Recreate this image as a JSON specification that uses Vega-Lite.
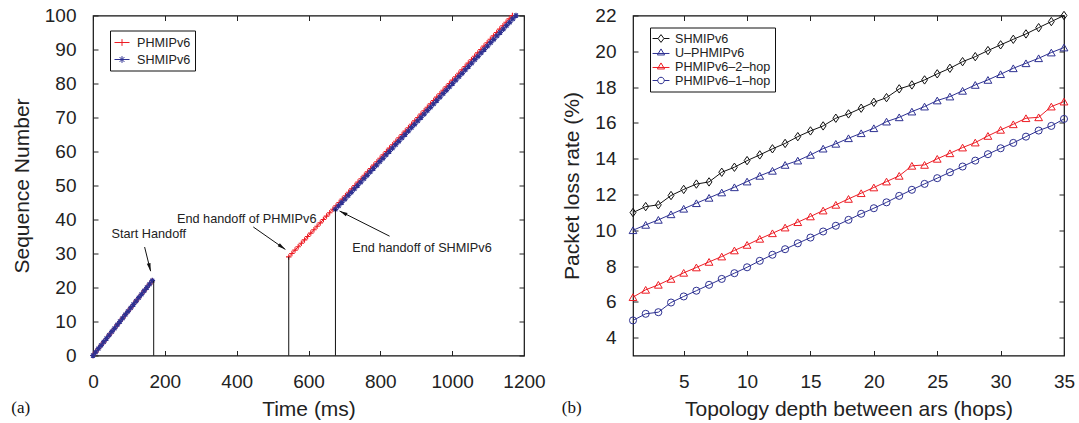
{
  "$schema": "https://vega.github.io/schema/vega-lite/v6.json",
  "background": "white",
  "padding": {"left": 10, "top": 5.5, "right": 5, "bottom": 0},
  "bounds": "flush",
  "spacing": 109,
  "resolve": {"scale": {"color": "independent", "shape": "independent"}, "legend": {"color": "independent", "shape": "independent"}},
  "config": {
    "view": {"stroke": "#111", "strokeWidth": 1.2},
    "font": "Liberation Sans",
    "axis": {"domain": false, "grid": false, "ticks": true, "tickSize": -5, "tickColor": "#222", "tickWidth": 1, "labelFont": "Liberation Sans", "labelFontSize": 19, "labelColor": "#222", "labelPadding": 22, "labelFlush": false, "titleFont": "Liberation Sans", "titleFontSize": 21, "titleFontWeight": "normal", "titleColor": "#222"},
    "axisX": {"titlePadding": 7},
    "axisY": {"titlePadding": 12}
  },
  "datasets": {
    "seq": [
      {"series":"PHMIPv6","seg":1,"t":0,"q":0},{"series":"PHMIPv6","seg":1,"t":7.5,"q":1},{"series":"PHMIPv6","seg":1,"t":15,"q":2},{"series":"PHMIPv6","seg":1,"t":22.5,"q":3},{"series":"PHMIPv6","seg":1,"t":30,"q":4},{"series":"PHMIPv6","seg":1,"t":37.5,"q":5},{"series":"PHMIPv6","seg":1,"t":45,"q":6},{"series":"PHMIPv6","seg":1,"t":52.5,"q":7},{"series":"PHMIPv6","seg":1,"t":60,"q":8},{"series":"PHMIPv6","seg":1,"t":67.5,"q":9},{"series":"PHMIPv6","seg":1,"t":75,"q":10},{"series":"PHMIPv6","seg":1,"t":82.5,"q":11},{"series":"PHMIPv6","seg":1,"t":90,"q":12},{"series":"PHMIPv6","seg":1,"t":97.5,"q":13},{"series":"PHMIPv6","seg":1,"t":105,"q":14},{"series":"PHMIPv6","seg":1,"t":112.5,"q":15},{"series":"PHMIPv6","seg":1,"t":120,"q":16},{"series":"PHMIPv6","seg":1,"t":127.5,"q":17},{"series":"PHMIPv6","seg":1,"t":135,"q":18},{"series":"PHMIPv6","seg":1,"t":142.5,"q":19},{"series":"PHMIPv6","seg":1,"t":150,"q":20},{"series":"PHMIPv6","seg":1,"t":157.5,"q":21},{"series":"PHMIPv6","seg":1,"t":165,"q":22},
      {"series":"PHMIPv6","seg":2,"t":545.0,"q":29},{"series":"PHMIPv6","seg":2,"t":553.8,"q":30},{"series":"PHMIPv6","seg":2,"t":562.5,"q":31},{"series":"PHMIPv6","seg":2,"t":571.3,"q":32},{"series":"PHMIPv6","seg":2,"t":580.1,"q":33},{"series":"PHMIPv6","seg":2,"t":588.9,"q":34},{"series":"PHMIPv6","seg":2,"t":597.6,"q":35},{"series":"PHMIPv6","seg":2,"t":606.4,"q":36},{"series":"PHMIPv6","seg":2,"t":615.2,"q":37},{"series":"PHMIPv6","seg":2,"t":623.9,"q":38},{"series":"PHMIPv6","seg":2,"t":632.7,"q":39},{"series":"PHMIPv6","seg":2,"t":641.5,"q":40},{"series":"PHMIPv6","seg":2,"t":650.2,"q":41},{"series":"PHMIPv6","seg":2,"t":659.0,"q":42},{"series":"PHMIPv6","seg":2,"t":667.8,"q":43},{"series":"PHMIPv6","seg":2,"t":676.6,"q":44},{"series":"PHMIPv6","seg":2,"t":685.3,"q":45},{"series":"PHMIPv6","seg":2,"t":694.1,"q":46},{"series":"PHMIPv6","seg":2,"t":702.9,"q":47},{"series":"PHMIPv6","seg":2,"t":711.6,"q":48},{"series":"PHMIPv6","seg":2,"t":720.4,"q":49},{"series":"PHMIPv6","seg":2,"t":729.2,"q":50},{"series":"PHMIPv6","seg":2,"t":737.9,"q":51},{"series":"PHMIPv6","seg":2,"t":746.7,"q":52},{"series":"PHMIPv6","seg":2,"t":755.5,"q":53},{"series":"PHMIPv6","seg":2,"t":764.3,"q":54},{"series":"PHMIPv6","seg":2,"t":773.0,"q":55},{"series":"PHMIPv6","seg":2,"t":781.8,"q":56},{"series":"PHMIPv6","seg":2,"t":790.6,"q":57},{"series":"PHMIPv6","seg":2,"t":799.3,"q":58},{"series":"PHMIPv6","seg":2,"t":808.1,"q":59},{"series":"PHMIPv6","seg":2,"t":816.9,"q":60},{"series":"PHMIPv6","seg":2,"t":825.6,"q":61},{"series":"PHMIPv6","seg":2,"t":834.4,"q":62},{"series":"PHMIPv6","seg":2,"t":843.2,"q":63},{"series":"PHMIPv6","seg":2,"t":852.0,"q":64},{"series":"PHMIPv6","seg":2,"t":860.7,"q":65},{"series":"PHMIPv6","seg":2,"t":869.5,"q":66},{"series":"PHMIPv6","seg":2,"t":878.3,"q":67},{"series":"PHMIPv6","seg":2,"t":887.0,"q":68},{"series":"PHMIPv6","seg":2,"t":895.8,"q":69},{"series":"PHMIPv6","seg":2,"t":904.6,"q":70},{"series":"PHMIPv6","seg":2,"t":913.3,"q":71},{"series":"PHMIPv6","seg":2,"t":922.1,"q":72},{"series":"PHMIPv6","seg":2,"t":930.9,"q":73},{"series":"PHMIPv6","seg":2,"t":939.7,"q":74},{"series":"PHMIPv6","seg":2,"t":948.4,"q":75},{"series":"PHMIPv6","seg":2,"t":957.2,"q":76},{"series":"PHMIPv6","seg":2,"t":966.0,"q":77},{"series":"PHMIPv6","seg":2,"t":974.7,"q":78},{"series":"PHMIPv6","seg":2,"t":983.5,"q":79},{"series":"PHMIPv6","seg":2,"t":992.3,"q":80},{"series":"PHMIPv6","seg":2,"t":1001.0,"q":81},{"series":"PHMIPv6","seg":2,"t":1009.8,"q":82},{"series":"PHMIPv6","seg":2,"t":1018.6,"q":83},{"series":"PHMIPv6","seg":2,"t":1027.4,"q":84},{"series":"PHMIPv6","seg":2,"t":1036.1,"q":85},{"series":"PHMIPv6","seg":2,"t":1044.9,"q":86},{"series":"PHMIPv6","seg":2,"t":1053.7,"q":87},{"series":"PHMIPv6","seg":2,"t":1062.4,"q":88},{"series":"PHMIPv6","seg":2,"t":1071.2,"q":89},{"series":"PHMIPv6","seg":2,"t":1080.0,"q":90},{"series":"PHMIPv6","seg":2,"t":1088.7,"q":91},{"series":"PHMIPv6","seg":2,"t":1097.5,"q":92},{"series":"PHMIPv6","seg":2,"t":1106.3,"q":93},{"series":"PHMIPv6","seg":2,"t":1115.1,"q":94},{"series":"PHMIPv6","seg":2,"t":1123.8,"q":95},{"series":"PHMIPv6","seg":2,"t":1132.6,"q":96},{"series":"PHMIPv6","seg":2,"t":1141.4,"q":97},{"series":"PHMIPv6","seg":2,"t":1150.1,"q":98},{"series":"PHMIPv6","seg":2,"t":1158.9,"q":99},{"series":"PHMIPv6","seg":2,"t":1167.7,"q":100},
      {"series":"SHMIPv6","seg":1,"t":0,"q":0},{"series":"SHMIPv6","seg":1,"t":7.5,"q":1},{"series":"SHMIPv6","seg":1,"t":15,"q":2},{"series":"SHMIPv6","seg":1,"t":22.5,"q":3},{"series":"SHMIPv6","seg":1,"t":30,"q":4},{"series":"SHMIPv6","seg":1,"t":37.5,"q":5},{"series":"SHMIPv6","seg":1,"t":45,"q":6},{"series":"SHMIPv6","seg":1,"t":52.5,"q":7},{"series":"SHMIPv6","seg":1,"t":60,"q":8},{"series":"SHMIPv6","seg":1,"t":67.5,"q":9},{"series":"SHMIPv6","seg":1,"t":75,"q":10},{"series":"SHMIPv6","seg":1,"t":82.5,"q":11},{"series":"SHMIPv6","seg":1,"t":90,"q":12},{"series":"SHMIPv6","seg":1,"t":97.5,"q":13},{"series":"SHMIPv6","seg":1,"t":105,"q":14},{"series":"SHMIPv6","seg":1,"t":112.5,"q":15},{"series":"SHMIPv6","seg":1,"t":120,"q":16},{"series":"SHMIPv6","seg":1,"t":127.5,"q":17},{"series":"SHMIPv6","seg":1,"t":135,"q":18},{"series":"SHMIPv6","seg":1,"t":142.5,"q":19},{"series":"SHMIPv6","seg":1,"t":150,"q":20},{"series":"SHMIPv6","seg":1,"t":157.5,"q":21},{"series":"SHMIPv6","seg":1,"t":165,"q":22},
      {"series":"SHMIPv6","seg":2,"t":675.0,"q":43},{"series":"SHMIPv6","seg":2,"t":683.8,"q":44},{"series":"SHMIPv6","seg":2,"t":692.6,"q":45},{"series":"SHMIPv6","seg":2,"t":701.5,"q":46},{"series":"SHMIPv6","seg":2,"t":710.3,"q":47},{"series":"SHMIPv6","seg":2,"t":719.1,"q":48},{"series":"SHMIPv6","seg":2,"t":727.9,"q":49},{"series":"SHMIPv6","seg":2,"t":736.7,"q":50},{"series":"SHMIPv6","seg":2,"t":745.6,"q":51},{"series":"SHMIPv6","seg":2,"t":754.4,"q":52},{"series":"SHMIPv6","seg":2,"t":763.2,"q":53},{"series":"SHMIPv6","seg":2,"t":772.0,"q":54},{"series":"SHMIPv6","seg":2,"t":780.8,"q":55},{"series":"SHMIPv6","seg":2,"t":789.7,"q":56},{"series":"SHMIPv6","seg":2,"t":798.5,"q":57},{"series":"SHMIPv6","seg":2,"t":807.3,"q":58},{"series":"SHMIPv6","seg":2,"t":816.1,"q":59},{"series":"SHMIPv6","seg":2,"t":824.9,"q":60},{"series":"SHMIPv6","seg":2,"t":833.8,"q":61},{"series":"SHMIPv6","seg":2,"t":842.6,"q":62},{"series":"SHMIPv6","seg":2,"t":851.4,"q":63},{"series":"SHMIPv6","seg":2,"t":860.2,"q":64},{"series":"SHMIPv6","seg":2,"t":869.0,"q":65},{"series":"SHMIPv6","seg":2,"t":877.9,"q":66},{"series":"SHMIPv6","seg":2,"t":886.7,"q":67},{"series":"SHMIPv6","seg":2,"t":895.5,"q":68},{"series":"SHMIPv6","seg":2,"t":904.3,"q":69},{"series":"SHMIPv6","seg":2,"t":913.1,"q":70},{"series":"SHMIPv6","seg":2,"t":922.0,"q":71},{"series":"SHMIPv6","seg":2,"t":930.8,"q":72},{"series":"SHMIPv6","seg":2,"t":939.6,"q":73},{"series":"SHMIPv6","seg":2,"t":948.4,"q":74},{"series":"SHMIPv6","seg":2,"t":957.2,"q":75},{"series":"SHMIPv6","seg":2,"t":966.1,"q":76},{"series":"SHMIPv6","seg":2,"t":974.9,"q":77},{"series":"SHMIPv6","seg":2,"t":983.7,"q":78},{"series":"SHMIPv6","seg":2,"t":992.5,"q":79},{"series":"SHMIPv6","seg":2,"t":1001.3,"q":80},{"series":"SHMIPv6","seg":2,"t":1010.2,"q":81},{"series":"SHMIPv6","seg":2,"t":1019.0,"q":82},{"series":"SHMIPv6","seg":2,"t":1027.8,"q":83},{"series":"SHMIPv6","seg":2,"t":1036.6,"q":84},{"series":"SHMIPv6","seg":2,"t":1045.4,"q":85},{"series":"SHMIPv6","seg":2,"t":1054.3,"q":86},{"series":"SHMIPv6","seg":2,"t":1063.1,"q":87},{"series":"SHMIPv6","seg":2,"t":1071.9,"q":88},{"series":"SHMIPv6","seg":2,"t":1080.7,"q":89},{"series":"SHMIPv6","seg":2,"t":1089.5,"q":90},{"series":"SHMIPv6","seg":2,"t":1098.4,"q":91},{"series":"SHMIPv6","seg":2,"t":1107.2,"q":92},{"series":"SHMIPv6","seg":2,"t":1116.0,"q":93},{"series":"SHMIPv6","seg":2,"t":1124.8,"q":94},{"series":"SHMIPv6","seg":2,"t":1133.6,"q":95},{"series":"SHMIPv6","seg":2,"t":1142.5,"q":96},{"series":"SHMIPv6","seg":2,"t":1151.3,"q":97},{"series":"SHMIPv6","seg":2,"t":1160.1,"q":98},{"series":"SHMIPv6","seg":2,"t":1168.9,"q":99},{"series":"SHMIPv6","seg":2,"t":1177.7,"q":100}
    ],
    "vlines": [{"t":169,"q":22},{"t":545,"q":29},{"t":675,"q":43}],
    "arrows": [
      {"name":"start","t":143.7,"q":31.9,"t2":160.4,"q2":24.8},
      {"name":"endP","t":446.3,"q":37.8,"t2":535.6,"q2":31.2},
      {"name":"endS","t":825.7,"q":35.1,"t2":686.5,"q2":42.5}
    ],
    "notes": [
      {"label":"Start Handoff","t":155.3,"q":35.8},
      {"label":"End handoff of PHMIPv6","t":428,"q":40.1},
      {"label":"End handoff of SHMIPv6","t":916,"q":31.7}
    ],
    "loss": [
      {"proto":"SHMIPv6","hop":1,"v":10.99},{"proto":"SHMIPv6","hop":2,"v":11.32},{"proto":"SHMIPv6","hop":3,"v":11.42},{"proto":"SHMIPv6","hop":4,"v":11.94},{"proto":"SHMIPv6","hop":5,"v":12.28},{"proto":"SHMIPv6","hop":6,"v":12.58},{"proto":"SHMIPv6","hop":7,"v":12.70},{"proto":"SHMIPv6","hop":8,"v":13.24},{"proto":"SHMIPv6","hop":9,"v":13.52},{"proto":"SHMIPv6","hop":10,"v":13.89},{"proto":"SHMIPv6","hop":11,"v":14.21},{"proto":"SHMIPv6","hop":12,"v":14.55},{"proto":"SHMIPv6","hop":13,"v":14.85},{"proto":"SHMIPv6","hop":14,"v":15.23},{"proto":"SHMIPv6","hop":15,"v":15.55},{"proto":"SHMIPv6","hop":16,"v":15.83},{"proto":"SHMIPv6","hop":17,"v":16.26},{"proto":"SHMIPv6","hop":18,"v":16.50},{"proto":"SHMIPv6","hop":19,"v":16.82},{"proto":"SHMIPv6","hop":20,"v":17.15},{"proto":"SHMIPv6","hop":21,"v":17.41},{"proto":"SHMIPv6","hop":22,"v":17.90},{"proto":"SHMIPv6","hop":23,"v":18.12},{"proto":"SHMIPv6","hop":24,"v":18.40},{"proto":"SHMIPv6","hop":25,"v":18.74},{"proto":"SHMIPv6","hop":26,"v":19.05},{"proto":"SHMIPv6","hop":27,"v":19.42},{"proto":"SHMIPv6","hop":28,"v":19.70},{"proto":"SHMIPv6","hop":29,"v":20.04},{"proto":"SHMIPv6","hop":30,"v":20.36},{"proto":"SHMIPv6","hop":31,"v":20.67},{"proto":"SHMIPv6","hop":32,"v":20.97},{"proto":"SHMIPv6","hop":33,"v":21.32},{"proto":"SHMIPv6","hop":34,"v":21.66},{"proto":"SHMIPv6","hop":35,"v":22.0},
      {"proto":"U–PHMIPv6","hop":1,"v":10.0},{"proto":"U–PHMIPv6","hop":2,"v":10.30},{"proto":"U–PHMIPv6","hop":3,"v":10.58},{"proto":"U–PHMIPv6","hop":4,"v":10.89},{"proto":"U–PHMIPv6","hop":5,"v":11.20},{"proto":"U–PHMIPv6","hop":6,"v":11.51},{"proto":"U–PHMIPv6","hop":7,"v":11.81},{"proto":"U–PHMIPv6","hop":8,"v":12.11},{"proto":"U–PHMIPv6","hop":9,"v":12.40},{"proto":"U–PHMIPv6","hop":10,"v":12.72},{"proto":"U–PHMIPv6","hop":11,"v":13.04},{"proto":"U–PHMIPv6","hop":12,"v":13.32},{"proto":"U–PHMIPv6","hop":13,"v":13.65},{"proto":"U–PHMIPv6","hop":14,"v":13.89},{"proto":"U–PHMIPv6","hop":15,"v":14.21},{"proto":"U–PHMIPv6","hop":16,"v":14.56},{"proto":"U–PHMIPv6","hop":17,"v":14.83},{"proto":"U–PHMIPv6","hop":18,"v":15.14},{"proto":"U–PHMIPv6","hop":19,"v":15.42},{"proto":"U–PHMIPv6","hop":20,"v":15.70},{"proto":"U–PHMIPv6","hop":21,"v":16.07},{"proto":"U–PHMIPv6","hop":22,"v":16.31},{"proto":"U–PHMIPv6","hop":23,"v":16.63},{"proto":"U–PHMIPv6","hop":24,"v":16.91},{"proto":"U–PHMIPv6","hop":25,"v":17.25},{"proto":"U–PHMIPv6","hop":26,"v":17.47},{"proto":"U–PHMIPv6","hop":27,"v":17.79},{"proto":"U–PHMIPv6","hop":28,"v":18.12},{"proto":"U–PHMIPv6","hop":29,"v":18.40},{"proto":"U–PHMIPv6","hop":30,"v":18.72},{"proto":"U–PHMIPv6","hop":31,"v":19.05},{"proto":"U–PHMIPv6","hop":32,"v":19.33},{"proto":"U–PHMIPv6","hop":33,"v":19.61},{"proto":"U–PHMIPv6","hop":34,"v":19.93},{"proto":"U–PHMIPv6","hop":35,"v":20.21},
      {"proto":"PHMIPv6–2–hop","hop":1,"v":6.26},{"proto":"PHMIPv6–2–hop","hop":2,"v":6.67},{"proto":"PHMIPv6–2–hop","hop":3,"v":6.95},{"proto":"PHMIPv6–2–hop","hop":4,"v":7.28},{"proto":"PHMIPv6–2–hop","hop":5,"v":7.62},{"proto":"PHMIPv6–2–hop","hop":6,"v":7.92},{"proto":"PHMIPv6–2–hop","hop":7,"v":8.23},{"proto":"PHMIPv6–2–hop","hop":8,"v":8.53},{"proto":"PHMIPv6–2–hop","hop":9,"v":8.87},{"proto":"PHMIPv6–2–hop","hop":10,"v":9.18},{"proto":"PHMIPv6–2–hop","hop":11,"v":9.52},{"proto":"PHMIPv6–2–hop","hop":12,"v":9.83},{"proto":"PHMIPv6–2–hop","hop":13,"v":10.15},{"proto":"PHMIPv6–2–hop","hop":14,"v":10.45},{"proto":"PHMIPv6–2–hop","hop":15,"v":10.77},{"proto":"PHMIPv6–2–hop","hop":16,"v":11.10},{"proto":"PHMIPv6–2–hop","hop":17,"v":11.42},{"proto":"PHMIPv6–2–hop","hop":18,"v":11.75},{"proto":"PHMIPv6–2–hop","hop":19,"v":12.07},{"proto":"PHMIPv6–2–hop","hop":20,"v":12.39},{"proto":"PHMIPv6–2–hop","hop":21,"v":12.72},{"proto":"PHMIPv6–2–hop","hop":22,"v":13.04},{"proto":"PHMIPv6–2–hop","hop":23,"v":13.60},{"proto":"PHMIPv6–2–hop","hop":24,"v":13.65},{"proto":"PHMIPv6–2–hop","hop":25,"v":13.99},{"proto":"PHMIPv6–2–hop","hop":26,"v":14.30},{"proto":"PHMIPv6–2–hop","hop":27,"v":14.62},{"proto":"PHMIPv6–2–hop","hop":28,"v":14.90},{"proto":"PHMIPv6–2–hop","hop":29,"v":15.27},{"proto":"PHMIPv6–2–hop","hop":30,"v":15.61},{"proto":"PHMIPv6–2–hop","hop":31,"v":15.92},{"proto":"PHMIPv6–2–hop","hop":32,"v":16.26},{"proto":"PHMIPv6–2–hop","hop":33,"v":16.31},{"proto":"PHMIPv6–2–hop","hop":34,"v":16.91},{"proto":"PHMIPv6–2–hop","hop":35,"v":17.19},
      {"proto":"PHMIPv6–1–hop","hop":1,"v":4.96},{"proto":"PHMIPv6–1–hop","hop":2,"v":5.33},{"proto":"PHMIPv6–1–hop","hop":3,"v":5.42},{"proto":"PHMIPv6–1–hop","hop":4,"v":5.96},{"proto":"PHMIPv6–1–hop","hop":5,"v":6.30},{"proto":"PHMIPv6–1–hop","hop":6,"v":6.62},{"proto":"PHMIPv6–1–hop","hop":7,"v":6.95},{"proto":"PHMIPv6–1–hop","hop":8,"v":7.28},{"proto":"PHMIPv6–1–hop","hop":9,"v":7.60},{"proto":"PHMIPv6–1–hop","hop":10,"v":7.93},{"proto":"PHMIPv6–1–hop","hop":11,"v":8.29},{"proto":"PHMIPv6–1–hop","hop":12,"v":8.63},{"proto":"PHMIPv6–1–hop","hop":13,"v":8.94},{"proto":"PHMIPv6–1–hop","hop":14,"v":9.27},{"proto":"PHMIPv6–1–hop","hop":15,"v":9.59},{"proto":"PHMIPv6–1–hop","hop":16,"v":9.93},{"proto":"PHMIPv6–1–hop","hop":17,"v":10.25},{"proto":"PHMIPv6–1–hop","hop":18,"v":10.58},{"proto":"PHMIPv6–1–hop","hop":19,"v":10.92},{"proto":"PHMIPv6–1–hop","hop":20,"v":11.23},{"proto":"PHMIPv6–1–hop","hop":21,"v":11.56},{"proto":"PHMIPv6–1–hop","hop":22,"v":11.92},{"proto":"PHMIPv6–1–hop","hop":23,"v":12.26},{"proto":"PHMIPv6–1–hop","hop":24,"v":12.59},{"proto":"PHMIPv6–1–hop","hop":25,"v":12.91},{"proto":"PHMIPv6–1–hop","hop":26,"v":13.24},{"proto":"PHMIPv6–1–hop","hop":27,"v":13.56},{"proto":"PHMIPv6–1–hop","hop":28,"v":13.89},{"proto":"PHMIPv6–1–hop","hop":29,"v":14.25},{"proto":"PHMIPv6–1–hop","hop":30,"v":14.58},{"proto":"PHMIPv6–1–hop","hop":31,"v":14.88},{"proto":"PHMIPv6–1–hop","hop":32,"v":15.23},{"proto":"PHMIPv6–1–hop","hop":33,"v":15.57},{"proto":"PHMIPv6–1–hop","hop":34,"v":15.83},{"proto":"PHMIPv6–1–hop","hop":35,"v":16.22}
    ]
  },
  "hconcat": [
    {
      "width": 431,
      "height": 340,
      "title": {"text": "(a)", "orient": "bottom", "anchor": "start", "frame": "bounds", "offset": -20, "font": "Liberation Serif", "fontSize": 17, "fontWeight": "normal", "color": "#111"},
      "resolve": {"axis": {"x": "independent", "y": "independent"}},
      "layer": [
        {
          "data": {"name": "seq"},
          "mark": {"type": "point", "filled": false, "opacity": 0},
          "encoding": {
            "x": {"field": "t", "type": "quantitative", "axis": null},
            "y": {"field": "q", "type": "quantitative", "axis": null},
            "color": {"field": "series", "type": "nominal",
              "legend": {"title": null, "orient": "none", "legendX": 17, "legendY": 15, "strokeColor": "#111", "fillColor": "white", "padding": 4, "labelFont": "Liberation Sans", "labelFontSize": 12.6, "labelColor": "#222", "symbolSize": 225, "symbolStrokeWidth": 1, "symbolOpacity": 1, "rowPadding": 2, "labelOffset": 7}},
            "shape": {"field": "series", "type": "nominal", "scale": {"domain": ["PHMIPv6", "SHMIPv6"], "range": ["M-1,0L1,0M0,-0.45L0,0.45", "M-1,0L1,0M0,-0.45L0,0.45M-0.32,-0.32L0.32,0.32M-0.32,0.32L0.32,-0.32"]},
              "legend": {"title": null, "orient": "none", "legendX": 17, "legendY": 15, "strokeColor": "#111", "fillColor": "white", "padding": 4, "labelFont": "Liberation Sans", "labelFontSize": 12.6, "labelColor": "#222", "symbolSize": 225, "symbolStrokeWidth": 1, "symbolOpacity": 1, "rowPadding": 2, "labelOffset": 7}}
          }
        },
        {
          "data": {"name": "seq"},
          "mark": {"type": "line", "strokeWidth": 1},
          "encoding": {
            "x": {"field": "t", "type": "quantitative", "scale": {"domain": [0, 1200], "nice": false, "zero": false}, "axis": {"orient": "bottom", "values": [0, 200, 400, 600, 800, 1000, 1200], "format": "d", "title": "Time (ms)"}},
            "y": {"field": "q", "type": "quantitative", "scale": {"domain": [0, 100], "nice": false}, "axis": {"orient": "left", "values": [0, 10, 20, 30, 40, 50, 60, 70, 80, 90, 100], "title": "Sequence Number"}},
            "color": {"field": "series", "type": "nominal", "scale": {"domain": ["PHMIPv6", "SHMIPv6"], "range": ["#ed1c24", "#2e3192"]},
              "legend": {"title": null, "orient": "none", "legendX": 17, "legendY": 15, "strokeColor": "#111", "fillColor": "white", "padding": 4, "labelFont": "Liberation Sans", "labelFontSize": 12.6, "labelColor": "#222", "symbolSize": 225, "symbolStrokeWidth": 1, "symbolOpacity": 1, "rowPadding": 2, "labelOffset": 7}},
            "detail": {"field": "seg", "type": "nominal"},
            "order": {"field": "t", "type": "quantitative"}
          }
        },
        {
          "data": {"name": "seq"},
          "transform": [{"filter": "datum.series === 'PHMIPv6'"}],
          "mark": {"type": "point", "shape": "M-1,0L1,0M0,-1L0,1", "filled": false, "color": "#ed1c24", "strokeWidth": 1.1, "size": 30, "opacity": 1},
          "encoding": {
            "x": {"field": "t", "type": "quantitative", "axis": {"orient": "top", "labels": false, "title": null, "values": [0, 200, 400, 600, 800, 1000, 1200]}},
            "y": {"field": "q", "type": "quantitative", "axis": {"orient": "right", "labels": false, "title": null, "values": [0, 10, 20, 30, 40, 50, 60, 70, 80, 90, 100]}}
          }
        },
        {
          "data": {"name": "seq"},
          "transform": [{"filter": "datum.series === 'SHMIPv6'"}],
          "mark": {"type": "point", "shape": "M-1,0L1,0M0,-1L0,1M-0.7,-0.7L0.7,0.7M-0.7,0.7L0.7,-0.7", "filled": false, "color": "#2e3192", "strokeWidth": 1.2, "size": 32, "opacity": 1},
          "encoding": {
            "x": {"field": "t", "type": "quantitative", "axis": null},
            "y": {"field": "q", "type": "quantitative", "axis": null}
          }
        },
        {
          "data": {"name": "vlines"},
          "mark": {"type": "rule", "color": "#111", "strokeWidth": 1},
          "encoding": {
            "x": {"field": "t", "type": "quantitative", "axis": null},
            "y": {"field": "q", "type": "quantitative", "axis": null},
            "y2": {"datum": 0}
          }
        },
        {
          "data": {"name": "arrows"},
          "mark": {"type": "rule", "color": "#111", "strokeWidth": 1},
          "encoding": {
            "x": {"field": "t", "type": "quantitative", "axis": null},
            "y": {"field": "q", "type": "quantitative", "axis": null},
            "x2": {"field": "t2"},
            "y2": {"field": "q2"}
          }
        },
        {
          "data": {"name": "arrows"},
          "transform": [{"filter": "datum.name === 'start'"}],
          "mark": {"type": "point", "shape": "M0,0L0.4,1.7L-0.4,1.7Z", "filled": true, "color": "#111", "size": 90, "angle": 166, "opacity": 1},
          "encoding": {
            "x": {"field": "t2", "type": "quantitative", "axis": null},
            "y": {"field": "q2", "type": "quantitative", "axis": null}
          }
        },
        {
          "data": {"name": "arrows"},
          "transform": [{"filter": "datum.name === 'endP'"}],
          "mark": {"type": "point", "shape": "M0,0L0.4,1.7L-0.4,1.7Z", "filled": true, "color": "#111", "size": 90, "angle": 125, "opacity": 1},
          "encoding": {
            "x": {"field": "t2", "type": "quantitative", "axis": null},
            "y": {"field": "q2", "type": "quantitative", "axis": null}
          }
        },
        {
          "data": {"name": "arrows"},
          "transform": [{"filter": "datum.name === 'endS'"}],
          "mark": {"type": "point", "shape": "M0,0L0.4,1.7L-0.4,1.7Z", "filled": true, "color": "#111", "size": 90, "angle": 297, "opacity": 1},
          "encoding": {
            "x": {"field": "t2", "type": "quantitative", "axis": null},
            "y": {"field": "q2", "type": "quantitative", "axis": null}
          }
        },
        {
          "data": {"name": "notes"},
          "mark": {"type": "text", "font": "Liberation Sans", "fontSize": 12.7, "color": "#222", "align": "center", "baseline": "middle"},
          "encoding": {
            "x": {"field": "t", "type": "quantitative", "axis": null},
            "y": {"field": "q", "type": "quantitative", "axis": null},
            "text": {"field": "label", "type": "nominal"}
          }
        }
      ]
    },
    {
      "width": 431,
      "height": 340,
      "title": {"text": "(b)", "orient": "bottom", "anchor": "start", "frame": "bounds", "offset": -20, "font": "Liberation Serif", "fontSize": 17, "fontWeight": "normal", "color": "#111"},
      "resolve": {"axis": {"x": "independent", "y": "independent"}},
      "layer": [
        {
          "data": {"name": "loss"},
          "mark": {"type": "point", "filled": false, "opacity": 0},
          "encoding": {
            "x": {"field": "hop", "type": "quantitative", "axis": null},
            "y": {"field": "v", "type": "quantitative", "axis": null},
            "color": {"field": "proto", "type": "nominal",
              "legend": {"title": null, "orient": "none", "legendX": 17, "legendY": 12, "strokeColor": "#111", "fillColor": "white", "padding": 4, "labelFont": "Liberation Sans", "labelFontSize": 12.6, "labelColor": "#222", "symbolSize": 169, "symbolStrokeWidth": 1, "symbolOpacity": 1, "rowPadding": 0, "labelOffset": 7}},
            "shape": {"field": "proto", "type": "nominal", "scale": {"domain": ["SHMIPv6", "U–PHMIPv6", "PHMIPv6–2–hop", "PHMIPv6–1–hop"], "range": ["M-1.3,0L-0.45,0M0.45,0L1.3,0M-0.45,0L0,-0.6L0.45,0L0,0.6Z", "M-1.3,0.15L1.3,0.15M-0.55,0.38L0,-0.55L0.55,0.38Z", "M-1.3,0.15L1.3,0.15M-0.55,0.38L0,-0.55L0.55,0.38Z", "M-1.3,0L-0.5,0M0.5,0L1.3,0M0.5,0A0.5,0.5 0 1 1 -0.5,0A0.5,0.5 0 1 1 0.5,0"]},
              "legend": {"title": null, "orient": "none", "legendX": 17, "legendY": 12, "strokeColor": "#111", "fillColor": "white", "padding": 4, "labelFont": "Liberation Sans", "labelFontSize": 12.6, "labelColor": "#222", "symbolSize": 169, "symbolStrokeWidth": 1, "symbolOpacity": 1, "rowPadding": 0, "labelOffset": 7}}
          }
        },
        {
          "data": {"name": "loss"},
          "mark": {"type": "line", "strokeWidth": 1},
          "encoding": {
            "x": {"field": "hop", "type": "quantitative", "scale": {"domain": [1, 35], "nice": false, "zero": false}, "axis": {"orient": "bottom", "values": [5, 10, 15, 20, 25, 30, 35], "title": "Topology depth between ars (hops)"}},
            "y": {"field": "v", "type": "quantitative", "scale": {"domain": [3, 22], "nice": false, "zero": false}, "axis": {"orient": "left", "values": [4, 6, 8, 10, 12, 14, 16, 18, 20, 22], "title": "Packet loss rate (%)"}},
            "color": {"field": "proto", "type": "nominal", "scale": {"domain": ["SHMIPv6", "U–PHMIPv6", "PHMIPv6–2–hop", "PHMIPv6–1–hop"], "range": ["#111111", "#2e3192", "#ed1c24", "#2e3192"]},
              "legend": {"title": null, "orient": "none", "legendX": 17, "legendY": 12, "strokeColor": "#111", "fillColor": "white", "padding": 4, "labelFont": "Liberation Sans", "labelFontSize": 12.6, "labelColor": "#222", "symbolSize": 169, "symbolStrokeWidth": 1, "symbolOpacity": 1, "rowPadding": 0, "labelOffset": 7}},
            "order": {"field": "hop", "type": "quantitative"}
          }
        },
        {
          "data": {"name": "loss"},
          "transform": [{"filter": "datum.proto === 'SHMIPv6'"}],
          "mark": {"type": "point", "shape": "M0,-1L0.7,0L0,1L-0.7,0Z", "filled": false, "color": "#111111", "strokeWidth": 1, "size": 70, "opacity": 1},
          "encoding": {
            "x": {"field": "hop", "type": "quantitative", "axis": {"orient": "top", "labels": false, "title": null, "values": [5, 10, 15, 20, 25, 30, 35]}},
            "y": {"field": "v", "type": "quantitative", "axis": {"orient": "right", "labels": false, "title": null, "values": [4, 6, 8, 10, 12, 14, 16, 18, 20, 22]}}
          }
        },
        {
          "data": {"name": "loss"},
          "transform": [{"filter": "datum.proto === 'U–PHMIPv6'"}],
          "mark": {"type": "point", "shape": "triangle-up", "filled": false, "color": "#2e3192", "strokeWidth": 1, "size": 60, "opacity": 1},
          "encoding": {
            "x": {"field": "hop", "type": "quantitative", "axis": null},
            "y": {"field": "v", "type": "quantitative", "axis": null}
          }
        },
        {
          "data": {"name": "loss"},
          "transform": [{"filter": "datum.proto === 'PHMIPv6–2–hop'"}],
          "mark": {"type": "point", "shape": "triangle-up", "filled": false, "color": "#ed1c24", "strokeWidth": 1, "size": 60, "opacity": 1},
          "encoding": {
            "x": {"field": "hop", "type": "quantitative", "axis": null},
            "y": {"field": "v", "type": "quantitative", "axis": null}
          }
        },
        {
          "data": {"name": "loss"},
          "transform": [{"filter": "datum.proto === 'PHMIPv6–1–hop'"}],
          "mark": {"type": "point", "shape": "circle", "filled": false, "color": "#2e3192", "strokeWidth": 1, "size": 50, "opacity": 1},
          "encoding": {
            "x": {"field": "hop", "type": "quantitative", "axis": null},
            "y": {"field": "v", "type": "quantitative", "axis": null}
          }
        }
      ]
    }
  ]
}
